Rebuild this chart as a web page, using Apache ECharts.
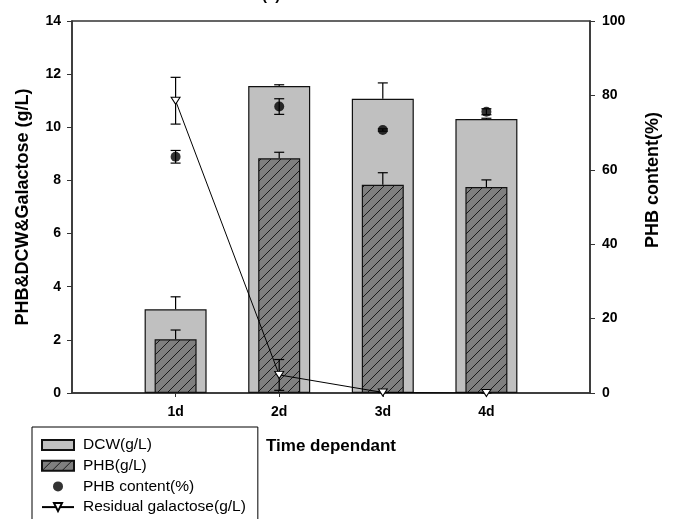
<!DOCTYPE html>
<html>
<head>
<meta charset="utf-8">
<script src="https://cdn.jsdelivr.net/npm/echarts@6/dist/echarts.min.js"></script>
<style>html,body{margin:0;padding:0;background:#fff}#c{width:684px;height:519px}</style>
</head>
<body>
<div id="c"></div>
<script>
// ---- data ----
const categories = ['1d', '2d', '3d', '4d'];
const dcw = [3.15, 11.55, 11.07, 10.31];
const dcwErr = [0.47, 0.05, 0.6, 0.03];
const phb = [2.02, 8.83, 7.84, 7.75];
const phbErr = [0.35, 0.23, 0.45, 0.27];
const phbContent = [63.5, 77.0, 70.7, 75.6];
const phbContentErr = [1.7, 2.1, 0.3, 0.8];
const galactose = [11.0, 0.68, 0.02, 0.0];
const galactoseErr = [0.88, 0.58, 0, 0];
const leftTicks = {min: 0, max: 14, interval: 2};
const rightTicks = {min: 0, max: 100, interval: 20};

// ---- styles ----
const FONT = 'Arial, "Liberation Sans", sans-serif';
const AX = '#333';
function hatch() {
  const c = document.createElement('canvas');
  c.width = 10; c.height = 10;
  const g = c.getContext('2d');
  g.fillStyle = '#7f7f7f';
  g.fillRect(0, 0, 10, 10);
  g.strokeStyle = '#1a1a1a';
  g.lineWidth = 1;
  g.beginPath();
  g.moveTo(0, 10); g.lineTo(10, 0);
  g.moveTo(-1, 1); g.lineTo(1, -1);
  g.moveTo(9, 11); g.lineTo(11, 9);
  g.stroke();
  return c;
}
const hatchPattern = {image: hatch(), repeat: 'repeat'};

const axisCats = [''].concat(categories, ['']);
const pairs = (vals) => categories.map((c, i) => [c, vals[i]]);
// [cat, center, low, high]
const errData = (vals, errs, twoSided) => categories.map((c, i) => [c, vals[i], twoSided ? vals[i] - errs[i] : vals[i], vals[i] + errs[i]]);

function errRender(capHalf) {
  return function (params, api) {
    const x = api.value(0);
    const pl = api.coord([x, api.value(2)]);
    const ph = api.coord([x, api.value(3)]);
    const st = {stroke: '#000', lineWidth: 1.2};
    const ch = [
      {type: 'line', shape: {x1: ph[0], y1: ph[1], x2: pl[0], y2: pl[1]}, style: st},
      {type: 'line', shape: {x1: ph[0] - capHalf, y1: ph[1], x2: ph[0] + capHalf, y2: ph[1]}, style: st}
    ];
    if (api.value(2) < api.value(1)) {
      ch.push({type: 'line', shape: {x1: pl[0] - capHalf, y1: pl[1], x2: pl[0] + capHalf, y2: pl[1]}, style: st});
    }
    return {type: 'group', children: ch};
  };
}

const labelStyle = {color: '#000', fontWeight: 'bold', fontSize: 14, fontFamily: FONT};

const option = {
  animation: false,
  backgroundColor: '#fff',
  title: {text: '(a)', left: 257, top: -17, textStyle: {fontSize: 15, fontWeight: 'bold', color: '#000', fontFamily: FONT}},
  grid: {left: 72, right: 94, top: 21, bottom: 126, show: true, borderColor: AX, borderWidth: 1.5, backgroundColor: 'transparent'},
  legend: {
    orient: 'vertical', left: 32, top: 427, height: 200,
    itemWidth: 32, itemHeight: 10, itemGap: 4.7,
    padding: [10, 12, 40, 9],
    borderColor: '#000', borderWidth: 1, backgroundColor: '#fff',
    textStyle: {fontSize: 15.5, color: '#000', fontFamily: FONT, lineHeight: 15, padding: [0, 0, 0, 4]},
    data: [
      {name: 'DCW(g/L)', icon: 'rect'},
      {name: 'PHB(g/L)', icon: 'rect'},
      {name: 'PHB content(%)'},
      {name: 'Residual galactose(g/L)'}
    ]
  },
  xAxis: [{
    type: 'category', data: axisCats, boundaryGap: false,
    axisLine: {lineStyle: {color: AX, width: 1.5}},
    axisTick: {length: 4, lineStyle: {color: AX}, interval: (i) => i > 0 && i < axisCats.length - 1},
    axisLabel: Object.assign({margin: 12, interval: 0}, labelStyle),
    splitLine: {show: false},
    name: 'Time dependant', nameLocation: 'middle', nameGap: 45,
    nameTextStyle: {fontSize: 17, fontWeight: 'bold', color: '#000', fontFamily: FONT}
  }, {
    type: 'category', data: axisCats, boundaryGap: false, show: false
  }],
  yAxis: [{
    type: 'value', position: 'left', min: leftTicks.min, max: leftTicks.max, interval: leftTicks.interval,
    axisLine: {show: true, lineStyle: {color: AX, width: 1.5}},
    axisTick: {show: true, length: 5, lineStyle: {color: AX}},
    axisLabel: Object.assign({margin: 11}, labelStyle),
    splitLine: {show: false},
    name: 'PHB&DCW&Galactose (g/L)', nameLocation: 'middle', nameGap: 40, nameRotate: 90,
    nameTextStyle: {fontSize: 18, fontWeight: 'bold', color: '#000', fontFamily: FONT}
  }, {
    type: 'value', position: 'right', min: rightTicks.min, max: rightTicks.max, interval: rightTicks.interval,
    axisLine: {show: true, lineStyle: {color: AX, width: 1.5}},
    axisTick: {show: true, length: 5, lineStyle: {color: AX}},
    axisLabel: Object.assign({margin: 12}, labelStyle),
    splitLine: {show: false}
  }],
  graphic: [{
    type: 'text', x: 653, y: 180, rotation: Math.PI / 2,
    style: {text: 'PHB content(%)', fill: '#000', font: 'bold 18px ' + FONT, align: 'center', verticalAlign: 'middle'}
  }],
  series: [{
    name: 'DCW(g/L)', type: 'bar', xAxisIndex: 0, yAxisIndex: 0, barWidth: 62, z: 2,
    itemStyle: {color: '#c0c0c0', borderColor: '#111', borderWidth: 1.2},
    data: pairs(dcw)
  }, {
    name: 'PHB(g/L)', type: 'bar', xAxisIndex: 1, yAxisIndex: 0, barWidth: 42, z: 3,
    itemStyle: {color: hatchPattern, borderColor: '#111', borderWidth: 1.2},
    data: pairs(phb)
  }, {
    name: 'dcwErr', type: 'custom', xAxisIndex: 0, yAxisIndex: 0, z: 4,
    renderItem: errRender(5), encode: {x: 0, y: [1, 2, 3]}, data: errData(dcw, dcwErr, false)
  }, {
    name: 'phbErr', type: 'custom', xAxisIndex: 0, yAxisIndex: 0, z: 4,
    renderItem: errRender(5), encode: {x: 0, y: [1, 2, 3]}, data: errData(phb, phbErr, false)
  }, {
    name: 'galErr', type: 'custom', xAxisIndex: 0, yAxisIndex: 0, z: 5,
    renderItem: errRender(5), encode: {x: 0, y: [1, 2, 3]}, data: errData(galactose, galactoseErr, true)
  }, {
    name: 'contentErr', type: 'custom', xAxisIndex: 0, yAxisIndex: 1, z: 5,
    renderItem: errRender(5), encode: {x: 0, y: [1, 2, 3]}, data: errData(phbContent, phbContentErr, true)
  }, {
    name: 'Residual galactose(g/L)', type: 'line', xAxisIndex: 0, yAxisIndex: 0, z: 6,
    symbol: 'triangle', symbolRotate: 180, symbolSize: [9, 7], showAllSymbol: true,
    lineStyle: {color: '#000', width: 1},
    itemStyle: {color: '#fff', borderColor: '#000', borderWidth: 1},
    data: pairs(galactose)
  }, {
    name: 'PHB content(%)', type: 'scatter', xAxisIndex: 0, yAxisIndex: 1, z: 7,
    symbol: 'circle', symbolSize: 10,
    itemStyle: {color: '#000'},
    data: pairs(phbContent)
  }]
};
const chart = echarts.init(document.getElementById('c'), null, {renderer: 'canvas'});
chart.setOption(option);
</script>
</body>
</html>
